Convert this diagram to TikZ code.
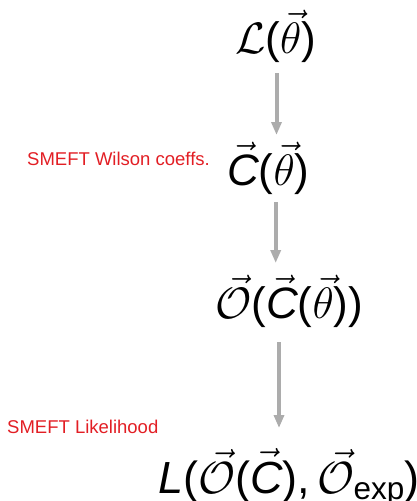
\RequirePackage{fix-cm}
\documentclass[tikz,border=0pt]{standalone}
\usepackage{amsmath}
\usepackage{fontspec}
\setmainfont{Liberation Sans}
\usetikzlibrary{arrows.meta}
\definecolor{smeftred}{RGB}{226,30,36}
\definecolor{flowgray}{RGB}{172,172,172}
\newcommand{\sit}[1]{\text{\itshape #1}}
\newcommand{\lp}{\text{(}}
\newcommand{\rp}{\text{)}}

\begin{document}
\begin{tikzpicture}[x=1pt,y=-1pt,
  expr/.style={anchor=base west,inner sep=0pt,font=\fontsize{44}{50}\selectfont},
  note/.style={anchor=base west,inner sep=0pt,text=smeftred,font=\fontsize{18.5}{22}\selectfont},
  flow/.style={draw=flowgray,line width=4pt,-{Triangle[width=10pt,length=13pt]}}]
\useasboundingbox (0,0) rectangle (417,501);
\node[expr] (lik) at (235,53) {$\mathcal{L}\lp\vec{\theta}\rp$};
\node[expr] (wc) at (227,185) {$\vec{\sit{C}}\lp\vec{\theta}\rp$};
\node[expr] (obs) at (215,318) {$\vec{\mathcal{O}}\lp\vec{\sit{C}}\lp\vec{\theta}\rp\rp$};
\node[expr,font=\fontsize{45}{52}\selectfont] (llh) at (158,493)
  {$\sit{L}\lp\vec{\mathcal{O}}\lp\vec{\sit{C}}\rp\text{,}\,\vec{\mathcal{O}}_{\text{exp}}\rp$};
\node[note] (wclab) at (27,165) {SMEFT Wilson coeffs.};
\node[note] (llhlab) at (7,433) {SMEFT Likelihood};
% arrows
\coordinate (t1) at (276.5,73); \coordinate (h1) at (276.5,135);
\coordinate (t2) at (275.7,202); \coordinate (h2) at (275.7,263);
\coordinate (t3) at (279,342); \coordinate (h3) at (279,428);
\foreach \a/\b in {t1/h1,t2/h2,t3/h3} \draw[flow] (\a)--(\b);
\end{tikzpicture}
\end{document}
